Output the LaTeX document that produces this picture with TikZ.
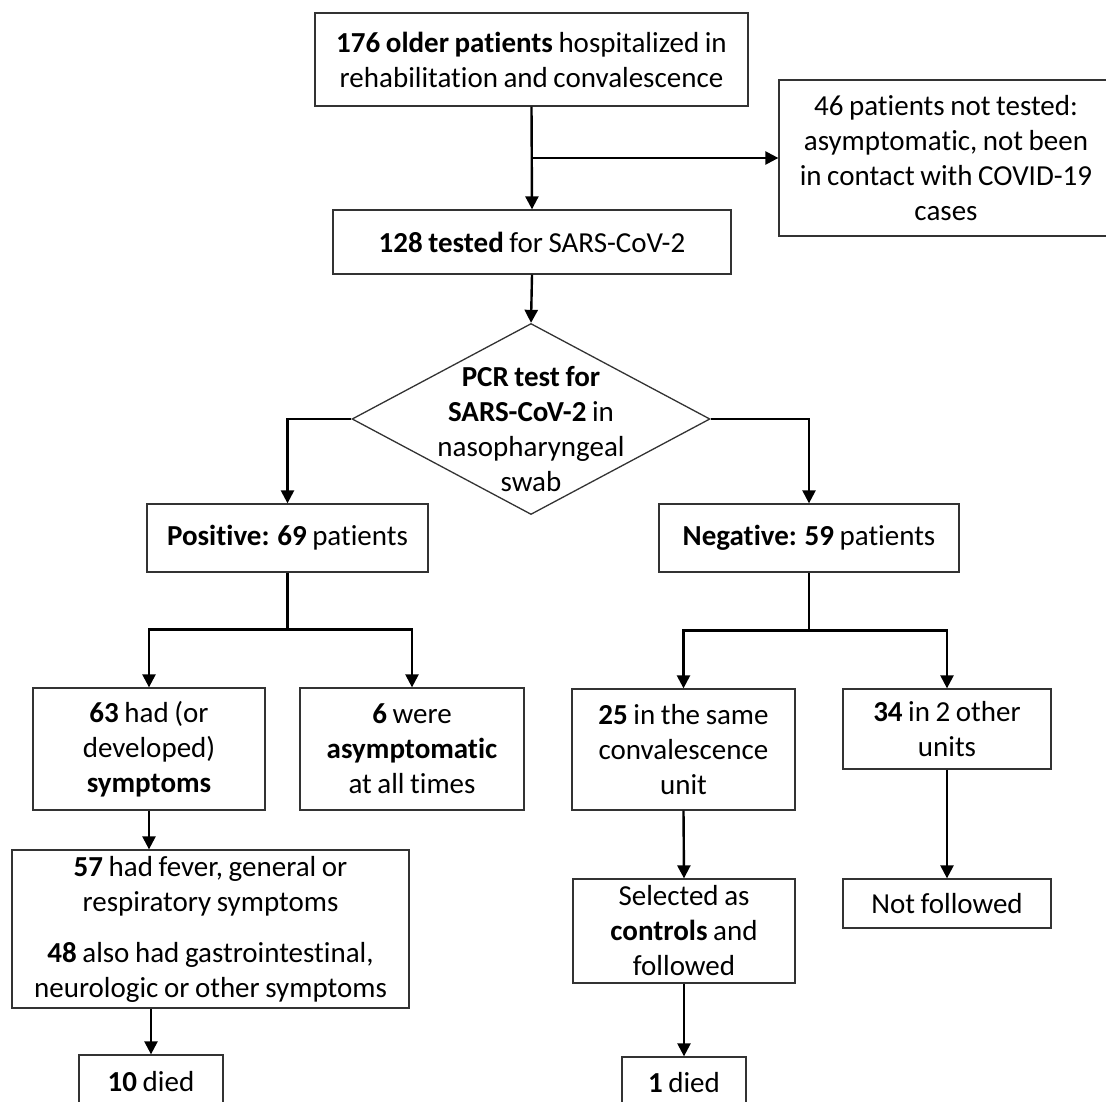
\documentclass[tikz,border=0pt]{standalone}
\usepackage{fontspec}
\setmainfont{Carlito}[Ligatures=NoCommon,WordSpace=0.85]
\usetikzlibrary{arrows.meta,shapes.geometric,calc}

\begin{document}
\begin{tikzpicture}[x=1pt,y=-1pt,
  font=\fontsize{29}{35}\selectfont,
  box/.style={draw=black!80,line width=1.3pt,align=center,inner sep=0pt},
  arr/.style={line width=2.4pt,-{Triangle[length=13pt,width=13pt]}},
  link/.style={line width=2.4pt}]
\useasboundingbox (0,0) rectangle (1106,1102);
\clip (0,0) rectangle (1106,1102);
% first row
\node[box,minimum width=433,minimum height=93] (all) at (531.5,59.5)
  {\textbf{176 older patients} hospitalized in\\rehabilitation and convalescence};
\node[box,minimum width=334,minimum height=156] (nottested) at (946,158)
  {46 patients not tested:\\asymptomatic, not been\\in contact with COVID-19\\cases};
\node[box,minimum width=398,minimum height=64] (tested) at (532,242)
  {\textbf{128 tested} for SARS-CoV-2};
% the test
\node[diamond,draw=black!80,line width=1.3pt,inner sep=0pt,
  minimum width=358,minimum height=191] (pcr) at (531,419) {};
\node[align=center,inner sep=0pt] (pcrtext) at (531,429)
  {\textbf{PCR test for}\\\textbf{SARS-CoV-2} in\\nasopharyngeal\\swab};
\node[box,minimum width=281,minimum height=68] (pos) at (287.5,538)
  {\textbf{Positive:} \textbf{69} patients};
\node[box,minimum width=300,minimum height=68] (neg) at (809,538)
  {\textbf{Negative:} \textbf{59} patients};
% positive side
\node[box,minimum width=232,minimum height=122] (sym) at (149,749)
  {\textbf{63} had (or\\developed)\\\textbf{symptoms}};
\node[box,minimum width=224,minimum height=122] (asym) at (412,749)
  {\textbf{6} were\\\textbf{asymptomatic}\\at all times};
\node[box,minimum width=397,minimum height=158] (fever) at (210.5,929)
  {\textbf{57} had fever, general or\\respiratory symptoms\\[16pt]
   \textbf{48} also had gastrointestinal,\\neurologic or other symptoms};
\node[box,minimum width=144,minimum height=54] (died10) at (151,1082)
  {\textbf{10} died};
% negative side
\node[box,minimum width=223,minimum height=121] (same) at (683.5,749.5)
  {\textbf{25} in the same\\convalescence\\unit};
\node[box,minimum width=208,minimum height=80] (other) at (947,729)
  {\textbf{34} in 2 other\\units};
\node[box,minimum width=222,minimum height=104] (ctrl) at (684,931)
  {Selected as\\\textbf{controls} and\\followed};
\node[box,minimum width=208,minimum height=49] (notfol) at (947,903.5)
  {Not followed};
\node[box,minimum width=124,minimum height=52] (died1) at (684,1083)
  {\textbf{1} died};
% connectors
\draw[arr] (all.south) -- (tested.north);
\draw[arr] (all.south |- nottested.west) -- (nottested.west);
\draw[arr] (tested.south) -- (pcr.north);
\draw[arr] (pcr.west) -| (pos.north);
\draw[arr] (pcr.east) -| (neg.north);
\draw[link] (pos.south) -- ++(0,57) coordinate (posfork);
\draw[arr] (posfork) -| (sym.north);
\draw[arr] (posfork) -| (asym.north);
\draw[link] (neg.south) -- ++(0,58) coordinate (negfork);
\draw[arr] (negfork) -| (same.north);
\draw[arr] (negfork) -| (other.north);
\draw[arr] (sym.south) -- (sym.south |- fever.north);
\draw[arr] (died10.north |- fever.south) -- (died10.north);
\draw[arr] (same.south) -- (ctrl.north);
\draw[arr] (other.south) -- (notfol.north);
\draw[arr] (ctrl.south) -- (died1.north);
\end{tikzpicture}
\end{document}
